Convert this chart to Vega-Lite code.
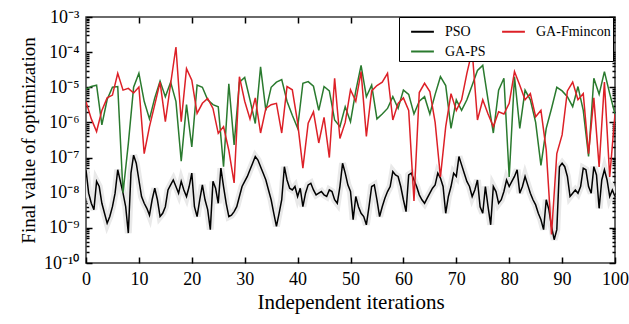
{
 "$schema": "https://vega.github.io/schema/vega-lite/v6.json",
 "width": 529, "height": 246,
 "autosize": {"type": "none"},
 "padding": {"left": 86, "top": 17, "right": 14, "bottom": 61},
 "background": "white",
 "config": {
  "view": {"stroke": "#3a3a3a", "strokeWidth": 1.5},
  "font": "Liberation Serif",
  "axis": {"labelFont": "Liberation Serif", "titleFont": "Liberation Serif", "labelColor": "black", "titleColor": "black", "titleFontWeight": "normal", "grid": false, "domain": false, "tickColor": "black", "tickWidth": 1.5, "labelFontSize": 17, "titleFontSize": 19, "labelFlush": false, "labelOverlap": false}
 },
 "datasets": {
  "pso": [{"x":0,"v":4.5e-8},{"x":0.5,"v":9.7e-9},{"x":1,"v":5.0e-9},{"x":1.5,"v":3.3e-9},{"x":2,"v":2.1e-8},{"x":2.5,"v":1.5e-8},{"x":3,"v":5.0e-9},{"x":3.5,"v":2.6e-9},{"x":4,"v":1.36e-9},{"x":4.5,"v":2.1e-9},{"x":5,"v":4.0e-9},{"x":5.5,"v":9.7e-9},{"x":6,"v":4.5e-8},{"x":6.5,"v":2.1e-8},{"x":7,"v":9.7e-9},{"x":7.5,"v":4.0e-9},{"x":8,"v":7.1e-10},{"x":8.5,"v":3.6e-8},{"x":9,"v":1.17e-7},{"x":9.5,"v":6.9e-8},{"x":10,"v":2.3e-8},{"x":10.5,"v":7.8e-9},{"x":11,"v":5.0e-9},{"x":11.5,"v":3.6e-9},{"x":12,"v":2.3e-9},{"x":12.5,"v":6.3e-9},{"x":13,"v":1.34e-8},{"x":13.5,"v":6.3e-9},{"x":14,"v":2.1e-9},{"x":14.5,"v":2.6e-9},{"x":15,"v":4.0e-9},{"x":15.5,"v":1.2e-8},{"x":16,"v":1.67e-8},{"x":16.5,"v":2.3e-8},{"x":17,"v":1.5e-8},{"x":17.5,"v":9.7e-9},{"x":18,"v":2.1e-8},{"x":18.5,"v":1.2e-8},{"x":19,"v":7.8e-9},{"x":19.5,"v":1.5e-8},{"x":20,"v":3.6e-8},{"x":20.5,"v":4.0e-9},{"x":21,"v":2.1e-9},{"x":21.5,"v":6.3e-9},{"x":22,"v":1.67e-8},{"x":22.5,"v":6.3e-9},{"x":23,"v":3.3e-9},{"x":23.5,"v":8.9e-10},{"x":24,"v":2.1e-8},{"x":24.5,"v":1.34e-8},{"x":25,"v":5.0e-9},{"x":25.5,"v":5.0e-8},{"x":26,"v":1.5e-8},{"x":26.5,"v":5.0e-9},{"x":27,"v":2.1e-9},{"x":27.5,"v":2.3e-9},{"x":28,"v":2.9e-9},{"x":28.5,"v":4.0e-9},{"x":29,"v":7.8e-9},{"x":29.5,"v":1.5e-8},{"x":30,"v":2.1e-8},{"x":30.5,"v":2.9e-8},{"x":31,"v":4.5e-8},{"x":31.5,"v":6.9e-8},{"x":32,"v":1.07e-7},{"x":32.5,"v":8.5e-8},{"x":33,"v":5.5e-8},{"x":33.5,"v":3.6e-8},{"x":34,"v":2.3e-8},{"x":34.5,"v":1.2e-8},{"x":35,"v":6.3e-9},{"x":35.5,"v":2.6e-9},{"x":36,"v":1.1e-9},{"x":36.5,"v":2.6e-9},{"x":37,"v":6.3e-9},{"x":37.5,"v":5.5e-8},{"x":38,"v":2.3e-8},{"x":38.5,"v":1.34e-8},{"x":39,"v":1.2e-8},{"x":39.5,"v":1.5e-8},{"x":40,"v":7.8e-9},{"x":40.5,"v":1.34e-8},{"x":41,"v":4.0e-9},{"x":41.5,"v":9.7e-9},{"x":42,"v":1.67e-8},{"x":42.5,"v":1.86e-8},{"x":43,"v":1.2e-8},{"x":43.5,"v":8.7e-9},{"x":44,"v":9.7e-9},{"x":44.5,"v":1.08e-8},{"x":45,"v":8.7e-9},{"x":45.5,"v":7.8e-9},{"x":46,"v":1.2e-8},{"x":46.5,"v":1.08e-8},{"x":47,"v":6.3e-9},{"x":47.5,"v":5.0e-9},{"x":48,"v":1.5e-8},{"x":48.5,"v":6.9e-8},{"x":49,"v":3.6e-8},{"x":49.5,"v":1.67e-8},{"x":50,"v":1.08e-8},{"x":50.5,"v":1.7e-9},{"x":51,"v":7.8e-9},{"x":51.5,"v":4.0e-9},{"x":52,"v":2.6e-9},{"x":52.5,"v":2.1e-9},{"x":53,"v":1.22e-9},{"x":53.5,"v":4.0e-9},{"x":54,"v":1.5e-8},{"x":54.5,"v":1.67e-8},{"x":55,"v":6.3e-9},{"x":55.5,"v":2.1e-9},{"x":56,"v":4.0e-9},{"x":56.5,"v":7.0e-9},{"x":57,"v":1.08e-8},{"x":57.5,"v":1.5e-8},{"x":58,"v":4.0e-8},{"x":58.5,"v":3.2e-8},{"x":59,"v":2.9e-8},{"x":59.5,"v":1.5e-8},{"x":60,"v":6.3e-9},{"x":60.5,"v":2.9e-9},{"x":61,"v":3.2e-8},{"x":61.5,"v":3.6e-8},{"x":62,"v":2.3e-8},{"x":62.5,"v":1.5e-8},{"x":63,"v":8.7e-9},{"x":63.5,"v":6.3e-9},{"x":64,"v":5.0e-9},{"x":64.5,"v":7.0e-9},{"x":65,"v":9.7e-9},{"x":65.5,"v":1.34e-8},{"x":66,"v":1.67e-8},{"x":66.5,"v":3.6e-8},{"x":67,"v":2.6e-8},{"x":67.5,"v":1.5e-8},{"x":68,"v":2.6e-9},{"x":68.5,"v":7.8e-9},{"x":69,"v":1.5e-8},{"x":69.5,"v":3.6e-8},{"x":70,"v":2.9e-8},{"x":70.5,"v":1.07e-7},{"x":71,"v":6.2e-8},{"x":71.5,"v":3.6e-8},{"x":72,"v":2.1e-8},{"x":72.5,"v":1.5e-8},{"x":73,"v":7.8e-9},{"x":73.5,"v":1.2e-8},{"x":74,"v":2.3e-8},{"x":74.5,"v":4.0e-9},{"x":75,"v":2.6e-9},{"x":75.5,"v":1.5e-8},{"x":76,"v":4.0e-9},{"x":76.5,"v":1.22e-9},{"x":77,"v":1.5e-8},{"x":77.5,"v":1.08e-8},{"x":78,"v":5.0e-9},{"x":78.5,"v":6.3e-9},{"x":79,"v":1.08e-8},{"x":79.5,"v":2.3e-8},{"x":80,"v":1.5e-8},{"x":80.5,"v":2.1e-8},{"x":81,"v":2.9e-8},{"x":81.5,"v":4.5e-8},{"x":82,"v":9.7e-9},{"x":82.5,"v":1.5e-8},{"x":83,"v":2.9e-8},{"x":83.5,"v":1.67e-8},{"x":84,"v":9.7e-9},{"x":84.5,"v":6.3e-9},{"x":85,"v":4.5e-9},{"x":85.5,"v":2.6e-9},{"x":86,"v":1.7e-9},{"x":86.5,"v":8.9e-10},{"x":87,"v":6.3e-9},{"x":87.5,"v":3.3e-9},{"x":88,"v":1.1e-9},{"x":88.5,"v":4.6e-10},{"x":89,"v":8.9e-10},{"x":89.5,"v":5.5e-8},{"x":90,"v":6.9e-8},{"x":90.5,"v":5.5e-8},{"x":91,"v":2.9e-8},{"x":91.5,"v":7.8e-9},{"x":92,"v":9.7e-9},{"x":92.5,"v":1.2e-8},{"x":93,"v":9.7e-9},{"x":93.5,"v":1.5e-8},{"x":94,"v":5.0e-8},{"x":94.5,"v":4.5e-8},{"x":95,"v":1.5e-8},{"x":95.5,"v":9.7e-9},{"x":96,"v":5.5e-8},{"x":96.5,"v":3.2e-8},{"x":97,"v":3.6e-9},{"x":97.5,"v":2.3e-8},{"x":98,"v":4.5e-8},{"x":98.5,"v":2.3e-8},{"x":99,"v":7.8e-9},{"x":99.5,"v":1.2e-8},{"x":100,"v":7.8e-9}],
  "gaps": [{"x":0,"v":8.7e-6},{"x":1,"v":1.05e-5},{"x":2,"v":1.15e-5},{"x":3,"v":8.5e-7},{"x":4,"v":4.5e-6},{"x":5,"v":1.0e-5},{"x":6,"v":1.05e-5},{"x":7,"v":1.0e-8},{"x":8,"v":2.5e-7},{"x":9,"v":1.0e-5},{"x":10,"v":2.5e-5},{"x":11,"v":4.0e-6},{"x":12,"v":1.26e-6},{"x":13,"v":5.0e-6},{"x":14,"v":1.5e-5},{"x":15,"v":5.4e-6},{"x":16,"v":1.4e-5},{"x":17,"v":4.0e-6},{"x":18,"v":7.9e-8},{"x":19,"v":3.2e-6},{"x":20,"v":2.0e-7},{"x":21,"v":1.15e-5},{"x":22,"v":1.0e-5},{"x":23,"v":4.4e-6},{"x":24,"v":3.2e-6},{"x":25,"v":2.8e-6},{"x":26,"v":5.5e-8},{"x":27,"v":1.26e-5},{"x":28,"v":2.3e-7},{"x":29,"v":1.4e-5},{"x":30,"v":1.9e-5},{"x":31,"v":4.4e-6},{"x":32,"v":9.3e-7},{"x":33,"v":3.8e-5},{"x":34,"v":2.2e-6},{"x":35,"v":1.0e-5},{"x":36,"v":1.4e-5},{"x":37,"v":1.66e-5},{"x":38,"v":4.0e-6},{"x":39,"v":1.6e-6},{"x":40,"v":6.9e-7},{"x":41,"v":1.3e-5},{"x":42,"v":1.45e-5},{"x":43,"v":1.07e-5},{"x":44,"v":2.2e-6},{"x":45,"v":1.05e-5},{"x":46,"v":7.9e-6},{"x":47,"v":1.17e-6},{"x":48,"v":7.6e-7},{"x":49,"v":2.8e-6},{"x":50,"v":1.05e-6},{"x":51,"v":7.9e-6},{"x":52,"v":4.2e-5},{"x":53,"v":5.4e-6},{"x":54,"v":1.15e-5},{"x":55,"v":1.26e-6},{"x":56,"v":1.74e-6},{"x":57,"v":2.5e-6},{"x":58,"v":5.4e-6},{"x":59,"v":2.5e-6},{"x":60,"v":8.3e-6},{"x":61,"v":6.3e-6},{"x":62,"v":1.74e-6},{"x":63,"v":4.0e-6},{"x":64,"v":5.4e-6},{"x":65,"v":1.74e-6},{"x":66,"v":6.3e-6},{"x":67,"v":2.0e-5},{"x":68,"v":1.12e-5},{"x":69,"v":6.8e-7},{"x":70,"v":4.4e-6},{"x":71,"v":2.2e-6},{"x":72,"v":4.4e-6},{"x":73,"v":1.15e-5},{"x":74,"v":3.0e-5},{"x":75,"v":4.2e-5},{"x":76,"v":4.4e-6},{"x":77,"v":5.0e-7},{"x":78,"v":8.3e-6},{"x":79,"v":1.8e-5},{"x":80,"v":2.8e-8},{"x":81,"v":2.0e-5},{"x":82,"v":6.8e-7},{"x":83,"v":8.3e-6},{"x":84,"v":4.4e-6},{"x":85,"v":1.0e-6},{"x":86,"v":6.0e-8},{"x":87,"v":6.8e-7},{"x":88,"v":2.5e-6},{"x":89,"v":1.0e-5},{"x":90,"v":7.9e-6},{"x":91,"v":5.4e-6},{"x":92,"v":2.8e-6},{"x":93,"v":1.05e-5},{"x":94,"v":2.2e-6},{"x":95,"v":1.07e-7},{"x":96,"v":1.8e-5},{"x":97,"v":6.3e-6},{"x":98,"v":2.8e-5},{"x":99,"v":6.6e-6},{"x":100,"v":1.74e-6}],
  "gafm": [{"x":0,"v":3.9e-6},{"x":1,"v":1.26e-6},{"x":2,"v":5.5e-7},{"x":3,"v":2.2e-6},{"x":4,"v":5.0e-6},{"x":5,"v":6.0e-6},{"x":6,"v":2.5e-5},{"x":7,"v":8.3e-6},{"x":8,"v":9.3e-6},{"x":9,"v":6.9e-6},{"x":10,"v":1.02e-5},{"x":11,"v":1.3e-7},{"x":12,"v":7.6e-7},{"x":13,"v":3.2e-6},{"x":14,"v":1.4e-5},{"x":15,"v":1.05e-6},{"x":16,"v":1.26e-5},{"x":17,"v":1.4e-4},{"x":18,"v":1.05e-6},{"x":19,"v":3.4e-5},{"x":20,"v":1.6e-5},{"x":21,"v":1.8e-6},{"x":22,"v":3.5e-6},{"x":23,"v":4.8e-6},{"x":24,"v":2.5e-6},{"x":25,"v":4.9e-7},{"x":26,"v":7.6e-7},{"x":27,"v":1.6e-7},{"x":28,"v":1.9e-8},{"x":29,"v":2.0e-5},{"x":30,"v":4.0e-6},{"x":31,"v":1.26e-6},{"x":32,"v":5.0e-6},{"x":33,"v":5.0e-7},{"x":34,"v":2.5e-6},{"x":35,"v":3.2e-6},{"x":36,"v":3.5e-6},{"x":37,"v":5.0e-7},{"x":38,"v":1.05e-5},{"x":39,"v":8.5e-6},{"x":40,"v":1.0e-6},{"x":41,"v":5.0e-8},{"x":42,"v":9.5e-7},{"x":43,"v":2.0e-6},{"x":44,"v":2.6e-7},{"x":45,"v":1.4e-6},{"x":46,"v":1.0e-7},{"x":47,"v":1.8e-5},{"x":48,"v":3.5e-7},{"x":49,"v":1.0e-6},{"x":50,"v":8.5e-6},{"x":51,"v":4.0e-6},{"x":52,"v":2.8e-5},{"x":53,"v":4.0e-7},{"x":54,"v":7.9e-6},{"x":55,"v":1.12e-5},{"x":56,"v":1.4e-5},{"x":57,"v":2.5e-5},{"x":58,"v":1.17e-6},{"x":59,"v":3.5e-6},{"x":60,"v":5.0e-6},{"x":61,"v":2.2e-6},{"x":62,"v":5.8e-9},{"x":63,"v":7.1e-6},{"x":64,"v":1.3e-5},{"x":65,"v":7.6e-6},{"x":66,"v":1.0e-6},{"x":67,"v":2.8e-8},{"x":68,"v":7.6e-7},{"x":69,"v":6.6e-6},{"x":70,"v":2.2e-6},{"x":71,"v":4.4e-6},{"x":72,"v":2.5e-5},{"x":73,"v":1.1e-4},{"x":74,"v":1.17e-6},{"x":75,"v":4.4e-6},{"x":76,"v":1.74e-6},{"x":77,"v":7.6e-7},{"x":78,"v":2.0e-6},{"x":79,"v":1.74e-6},{"x":80,"v":3.5e-6},{"x":81,"v":2.8e-5},{"x":82,"v":1.15e-5},{"x":83,"v":4.4e-6},{"x":84,"v":6.6e-6},{"x":85,"v":1.45e-6},{"x":86,"v":2.2e-6},{"x":87,"v":1.66e-7},{"x":88,"v":6.5e-10},{"x":89,"v":1.3e-7},{"x":90,"v":4.4e-7},{"x":91,"v":7.9e-6},{"x":92,"v":1.4e-5},{"x":93,"v":4.4e-6},{"x":94,"v":6.6e-6},{"x":95,"v":1.3e-7},{"x":96,"v":5.0e-6},{"x":97,"v":5.4e-8},{"x":98,"v":1.4e-5},{"x":99,"v":2.8e-8},{"x":100,"v":1.74e-6}]
 },
 "resolve": {"axis": {"x": "independent", "y": "independent"}},
 "layer": [
  {
   "data": {"name": "pso"},
   "mark": {"type": "line", "stroke": "#e9e9e9", "strokeWidth": 7, "clip": true},
   "encoding": {
    "x": {"field": "x", "type": "quantitative", "scale": {"domain": [0, 100], "nice": false, "zero": false},
      "axis": {"orient": "bottom", "values": [0,10,20,30,40,50,60,70,80,90,100], "tickSize": -6, "labelPadding": 13, "labelFontSize": 18, "title": "Independent iterations", "titleFontSize": 21, "titlePadding": 3, "format": "d"}},
    "y": {"field": "v", "type": "quantitative", "scale": {"type": "log", "domain": [1e-10, 1e-3], "nice": false},
      "axis": {"orient": "left", "title": "Final value of optimization", "titlePadding": 5, "labelFontSize": 18,
        "values": [1e-10,2e-10,3e-10,4e-10,5e-10,6e-10,7e-10,8e-10,9e-10,1e-9,2e-9,3e-9,4e-9,5e-9,6e-9,7e-9,8e-9,9e-9,1e-8,2e-8,3e-8,4e-8,5e-8,6e-8,7e-8,8e-8,9e-8,1e-7,2e-7,3e-7,4e-7,5e-7,6e-7,7e-7,8e-7,9e-7,1e-6,2e-6,3e-6,4e-6,5e-6,6e-6,7e-6,8e-6,9e-6,1e-5,2e-5,3e-5,4e-5,5e-5,6e-5,7e-5,8e-5,9e-5,1e-4,2e-4,3e-4,4e-4,5e-4,6e-4,7e-4,8e-4,9e-4,1e-3],
        "tickSize": {"condition": {"test": "abs(log(datum.value)/LN10 - round(log(datum.value)/LN10)) < 0.01", "value": -6}, "value": -3},
        "labelPadding": 13,
        "labelExpr": "abs(log(datum.value)/LN10 - round(log(datum.value)/LN10)) > 0.01 ? '' : '10' + replace(replace(replace(replace(replace(replace(replace(replace(replace(replace('' + round(log(datum.value)/LN10), '-', '⁻'), '1', '¹'), '0', '⁰'), '3', '³'), '4', '⁴'), '5', '⁵'), '6', '⁶'), '7', '⁷'), '8', '⁸'), '9', '⁹')"}}
   }
  },
  {
   "data": {"name": "pso"},
   "mark": {"type": "line", "strokeWidth": 1.5, "clip": true},
   "encoding": {
    "x": {"field": "x", "type": "quantitative", "axis": null},
    "y": {"field": "v", "type": "quantitative", "axis": null},
    "color": {"datum": "PSO", "type": "nominal",
      "scale": {"domain": ["PSO", "GA-Fmincon", "GA-PS"], "range": ["#000000", "#dd2027", "#2a7a2e"]},
      "legend": {"orient": "none", "legendX": 313, "legendY": 0, "columns": 2, "direction": "horizontal", "title": null,
        "strokeColor": "black", "fillColor": "white", "padding": 2, "symbolOffset": 9, "symbolType": "stroke", "symbolSize": 520, "symbolStrokeWidth": 2,
        "labelFont": "Liberation Serif", "labelFontSize": 14, "labelColor": "black", "labelOffset": 10, "columnPadding": 6, "rowPadding": -8}}
   }
  },
  {
   "data": {"name": "gaps"},
   "mark": {"type": "line", "strokeWidth": 1.5, "clip": true},
   "encoding": {
    "x": {"field": "x", "type": "quantitative", "axis": null},
    "y": {"field": "v", "type": "quantitative", "axis": null},
    "color": {"datum": "GA-PS", "type": "nominal"}
   }
  },
  {
   "data": {"name": "gafm"},
   "mark": {"type": "line", "strokeWidth": 1.5, "clip": true},
   "encoding": {
    "x": {"field": "x", "type": "quantitative", "axis": null},
    "y": {"field": "v", "type": "quantitative", "axis": null},
    "color": {"datum": "GA-Fmincon", "type": "nominal"}
   }
  },
  {
   "data": {"name": "pso"},
   "mark": {"type": "line", "strokeOpacity": 0, "clip": true},
   "encoding": {
    "x": {"field": "x", "type": "quantitative", "axis": {"orient": "top", "values": [10,20,30,40,50,60,70,80,90], "tickSize": -6, "labels": false, "title": null}},
    "y": {"field": "v", "type": "quantitative", "axis": {"orient": "right", "labels": false, "title": null,
        "values": [1e-10,2e-10,3e-10,4e-10,5e-10,6e-10,7e-10,8e-10,9e-10,1e-9,2e-9,3e-9,4e-9,5e-9,6e-9,7e-9,8e-9,9e-9,1e-8,2e-8,3e-8,4e-8,5e-8,6e-8,7e-8,8e-8,9e-8,1e-7,2e-7,3e-7,4e-7,5e-7,6e-7,7e-7,8e-7,9e-7,1e-6,2e-6,3e-6,4e-6,5e-6,6e-6,7e-6,8e-6,9e-6,1e-5,2e-5,3e-5,4e-5,5e-5,6e-5,7e-5,8e-5,9e-5,1e-4,2e-4,3e-4,4e-4,5e-4,6e-4,7e-4,8e-4,9e-4,1e-3],
        "tickSize": {"condition": {"test": "abs(log(datum.value)/LN10 - round(log(datum.value)/LN10)) < 0.01", "value": -6}, "value": -3}}}
   }
  }
 ]
}
